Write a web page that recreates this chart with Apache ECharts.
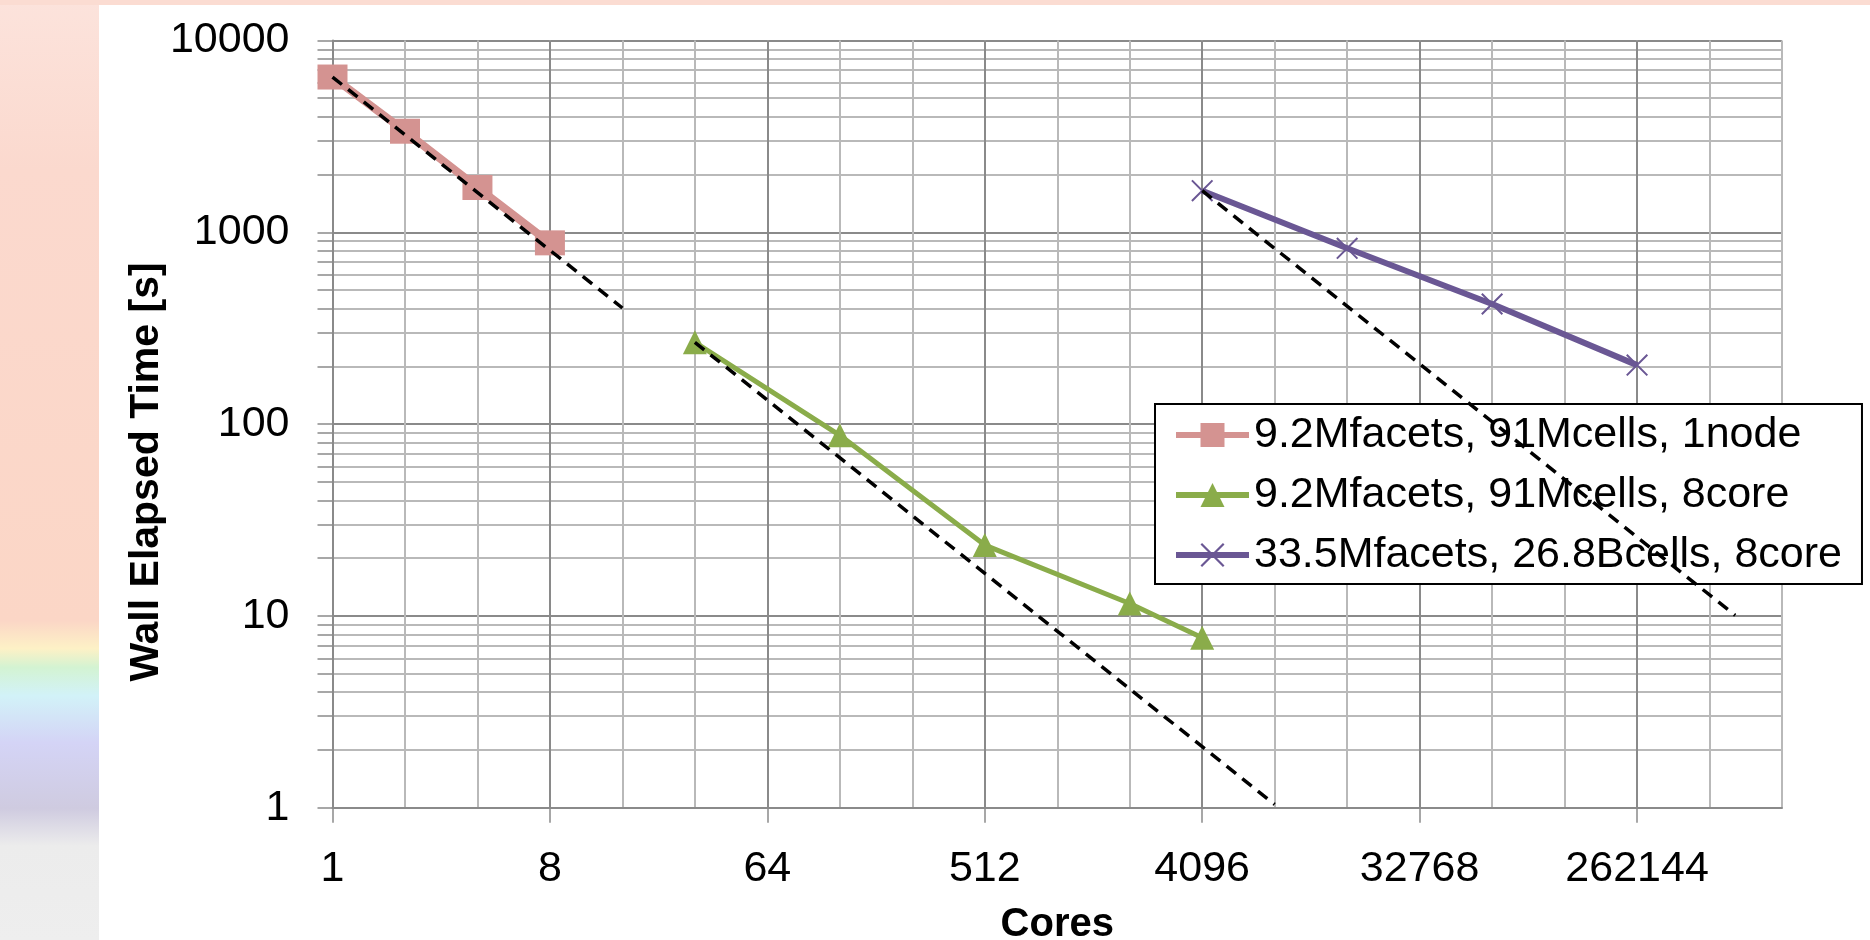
<!DOCTYPE html>
<html>
<head>
<meta charset="utf-8">
<script src="https://cdn.jsdelivr.net/npm/echarts@6/dist/echarts.min.js"></script>
<style>
html,body{margin:0;padding:0;background:#fff;}
#chart{width:1870px;height:940px;}
</style>
</head>
<body>
<div id="chart"></div>
<script>
// ---- data ----
const seriesNames = ['9.2Mfacets, 91Mcells, 1node', '9.2Mfacets, 91Mcells, 8core', '33.5Mfacets, 26.8Bcells, 8core'];
const coresA = [1, 2, 4, 8];
const timeA = [6450, 3365, 1712, 881];
const coresB = [32, 128, 512, 2048, 4096];
const timeB = [267, 87.4, 23.4, 11.6, 7.7];
const coresC = [4096, 16384, 65536, 262144];
const timeC = [1648, 825, 423, 203];
// ideal scaling (dashed) lines
const idealCoresA = [1, 16];
const idealTimeA = [6450, 403];
const idealCoresB = [32, 8192];
const idealTimeB = [267, 1.04];
const idealCoresC = [4096, 670000];
const idealTimeC = [1648, 10.07];
// tick labels
const xTickLabels = ['1', '8', '64', '512', '4096', '32768', '262144'];
const yTickLabels = ['1', '10', '100', '1000', '10000'];
const xTitle = 'Cores';
const yTitle = 'Wall Elapsed Time [s]';

const pairs = (xs, ys) => xs.map((x, i) => [x, ys[i]]);

const FONT = 'Liberation Sans, Arial, sans-serif';
const MAJOR = '#8a8a8a';
const MINOR = '#b9b9b9';
const PINK = '#d49391';
const GREEN = '#8aac4a';
const PURPLE = '#6a5794';
const X_PATH = 'path://M0,1.3L1.3,0L20,18.7L18.7,20Z M18.7,0L20,1.3L1.3,20L0,18.7Z';

const chart = echarts.init(document.getElementById('chart'), null, {renderer: 'canvas'});

const dashed = (xs, ys, name) => ({
  name: name, type: 'line', xAxisIndex: 0, yAxisIndex: 0,
  data: pairs(xs, ys), showSymbol: false, symbol: 'none', z: 4, silent: true,
  lineStyle: {color: '#000', width: 3.5, type: [12, 8]}
});

chart.setOption({
  animation: false,
  textStyle: {fontFamily: FONT, color: '#000'},
  graphic: [
    {type: 'rect', z: -10, shape: {x: 0, y: 0, width: 99, height: 940},
      style: {fill: new echarts.graphic.LinearGradient(0, 0, 0, 1, [
        {offset: 0, color: '#fce3dc'},
        {offset: 0.18, color: '#fbd9ce'},
        {offset: 0.66, color: '#fbd6c6'},
        {offset: 0.69, color: '#fdf1c6'},
        {offset: 0.71, color: '#d3f3d2'},
        {offset: 0.74, color: '#d2f2f8'},
        {offset: 0.79, color: '#d4d4f6'},
        {offset: 0.86, color: '#cfcbe0'},
        {offset: 0.9, color: '#ececec'},
        {offset: 1, color: '#eeeeee'}
      ])}},
    {type: 'rect', z: -10, shape: {x: 0, y: 0, width: 1870, height: 5}, style: {fill: '#fbdcd2'}},
    {type: 'text', x: 147, y: 472, rotation: Math.PI / 2, z: 10,
      style: {text: yTitle, font: 'bold 41px ' + FONT, fill: '#000', align: 'center', verticalAlign: 'middle'}}
  ],
  grid: {left: 332.5, right: 88, top: 40.5, bottom: 132.3, containLabel: false, outerBoundsMode: 'none'},
  legend: {
    data: seriesNames,
    orient: 'vertical',
    left: 1155, top: 404,
    padding: [7, 20, 5, 18],
    itemWidth: 73, itemHeight: 30, itemGap: 12,
    backgroundColor: '#fff', borderColor: '#000', borderWidth: 2,
    lineStyle: {width: 6},
    textStyle: {fontSize: 43, lineHeight: 48, color: '#000', fontFamily: FONT},
    selectedMode: false
  },
  xAxis: [
    {type: 'log', logBase: 2, min: 1, max: 1048576, show: false},
    {type: 'value', min: 0, max: 20, interval: 1, position: 'bottom',
      axisLine: {show: false}, axisTick: {show: false}, axisLabel: {show: false},
      splitLine: {show: true, lineStyle: {color: MINOR, width: 2}}},
    {type: 'value', min: 0, max: 20, interval: 3, position: 'bottom',
      name: xTitle, nameLocation: 'middle', nameGap: 97,
      nameTextStyle: {fontSize: 40, fontWeight: 'bold', fontFamily: FONT, color: '#000'},
      axisLine: {show: true, onZero: false, lineStyle: {color: MAJOR, width: 2}},
      axisTick: {show: true, inside: false, length: 15, lineStyle: {color: MAJOR, width: 1.5},
        customValues: [0, 3, 6, 9, 12, 15, 18]},
      axisLabel: {show: true, margin: 36, fontSize: 43, lineHeight: 50, color: '#000',
        customValues: [0, 3, 6, 9, 12, 15, 18],
        formatter: v => xTickLabels[Math.round(v / 3)] ?? ''},
      splitLine: {show: true, lineStyle: {color: MAJOR, width: 2}}}
  ],
  yAxis: [
    {type: 'log', logBase: 10, min: 1, max: 10000,
      axisLine: {show: true, onZero: false, lineStyle: {color: MAJOR, width: 2}},
      axisTick: {show: true, inside: false, length: 15, lineStyle: {color: MAJOR, width: 1.5}},
      minorTick: {show: true, splitNumber: 9, length: 15, lineStyle: {color: MAJOR, width: 1.5}},
      axisLabel: {show: true, margin: 43, fontSize: 43, color: '#000',
        formatter: v => yTickLabels[Math.round(Math.log10(v))] ?? ''},
      splitLine: {show: true, lineStyle: {color: MAJOR, width: 2}},
      minorSplitLine: {show: true, lineStyle: {color: MINOR, width: 2}}}
  ],
  series: [
    {name: seriesNames[0], type: 'line', xAxisIndex: 0, yAxisIndex: 0, data: pairs(coresA, timeA),
      symbol: 'rect', symbolSize: [30, 25], z: 3, silent: true,
      itemStyle: {color: PINK}, lineStyle: {color: PINK, width: 8}},
    {name: seriesNames[1], type: 'line', xAxisIndex: 0, yAxisIndex: 0, data: pairs(coresB, timeB),
      symbol: 'triangle', symbolSize: 24, z: 3, silent: true,
      itemStyle: {color: GREEN}, lineStyle: {color: GREEN, width: 5}},
    {name: seriesNames[2], type: 'line', xAxisIndex: 0, yAxisIndex: 0, data: pairs(coresC, timeC),
      symbol: X_PATH, symbolSize: 22, z: 3, silent: true,
      itemStyle: {color: PURPLE}, lineStyle: {color: PURPLE, width: 6}},
    dashed(idealCoresA, idealTimeA, 'idealA'),
    dashed(idealCoresB, idealTimeB, 'idealB'),
    dashed(idealCoresC, idealTimeC, 'idealC')
  ]
});
</script>
</body>
</html>
